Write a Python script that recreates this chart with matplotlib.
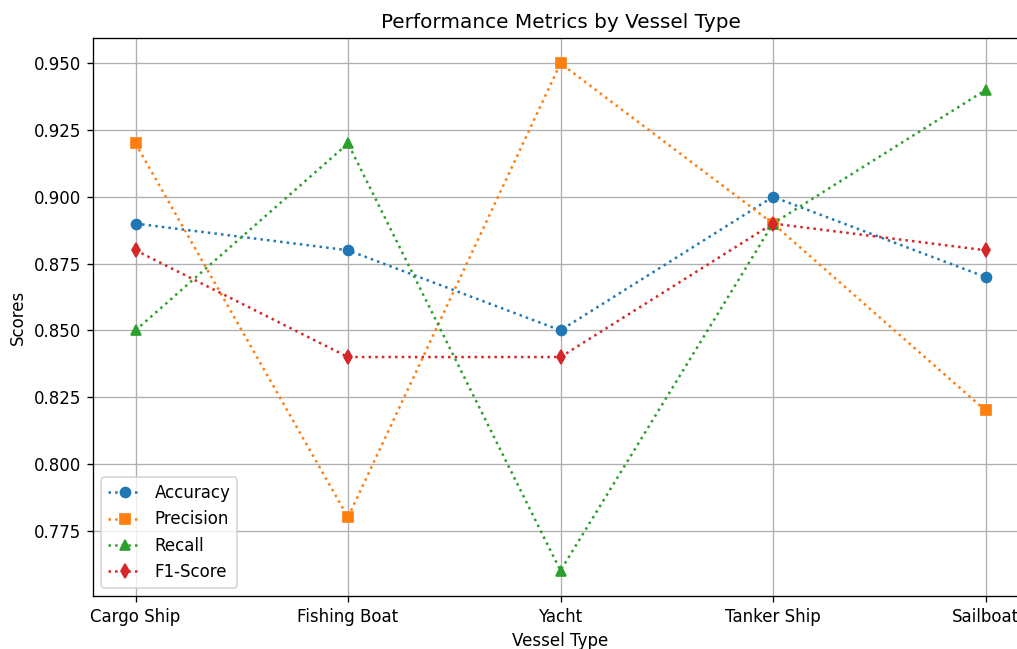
import matplotlib.pyplot as plt

vessels = ['Cargo Ship', 'Fishing Boat', 'Yacht', 'Tanker Ship', 'Sailboat']
accuracy = [0.89, 0.88, 0.85, 0.90, 0.87]
precision = [0.92, 0.78, 0.95, 0.89, 0.82]
recall = [0.85, 0.92, 0.76, 0.89, 0.94]
f1_score = [0.88, 0.84, 0.84, 0.89, 0.88]

fig = plt.figure(figsize=(1017 / 120, 649 / 120), dpi=120)
# the reference is cut off at the right edge, so the axes run a little past it
ax = fig.add_axes([93 / 1017, 53 / 649, 935 / 1017, 558 / 649])

ax.plot(vessels, accuracy, marker='o', linestyle=':', label='Accuracy')
ax.plot(vessels, precision, marker='s', linestyle=':', label='Precision')
ax.plot(vessels, recall, marker='^', linestyle=':', label='Recall')
ax.plot(vessels, f1_score, marker='d', linestyle=':', label='F1-Score')

ax.set_title('Performance Metrics by Vessel Type')
ax.set_xlabel('Vessel Type')
ax.set_ylabel('Scores')
ax.grid(True)
ax.legend(loc='lower left')

plt.savefig('out.png', dpi=120)
